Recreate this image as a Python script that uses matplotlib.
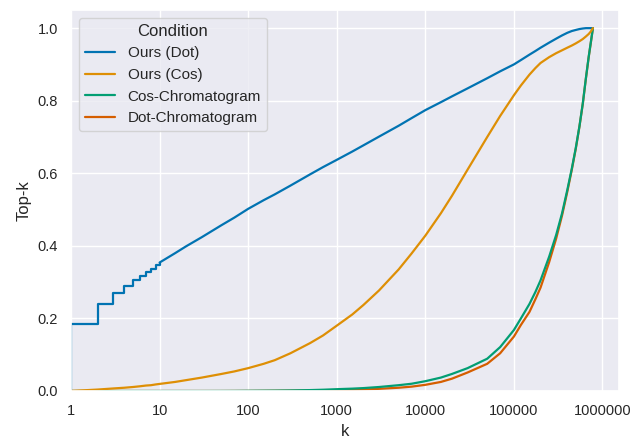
import matplotlib
matplotlib.use("Agg")
import matplotlib.pyplot as plt
import matplotlib.ticker as mticker
import seaborn as sns

k = [0, 1, 2, 3, 4, 5, 6, 7, 8, 9, 10,
     15, 20, 30, 50, 70,
     100, 150, 200, 300, 500, 700,
     1000, 1500, 2000, 3000, 5000, 7000,
     10000, 15000, 20000, 30000, 50000, 70000,
     100000, 120000, 150000, 175000, 200000, 250000, 300000, 350000, 400000, 450000,
     500000, 550000, 600000, 650000, 700000, 740000, 780000]

ours_dot = [0, .185, .240, .269, .288, .305, .317, .328, .337, .346, .354,
            .380, .399, .424, .457, .478,
            .502, .526, .542, .566, .597, .617,
            .637, .660, .677, .701, .731, .752,
            .774, .796, .812, .834, .862, .881,
            .900, .912, .927, .937, .946, .960, .971, .980, .987, .992,
            .995, .9975, .999, 1.0, 1.0, 1.0, 1.0]

ours_cos = [0, 0.0, .004, .007, .009, .011, .013, .015, .016, .018, .0195,
            .025, .030, .037, .047, .054,
            .063, .075, .085, .104, .132, .153,
            .180, .211, .237, .277, .335, .379,
            .428, .490, .538, .610, .700, .758,
            .815, .842, .872, .890, .904, .920, .931, .939, .946, .952,
            .958, .964, .970, .977, .984, .991, 1.0]

cos_chrom = [0, 0, 0, 0, 0, 0, 0, 0, 0, 0, 0,
             0, 0, 0, 0.0001, 0.0002,
             .0005, .0008, .001, .0015, .0025, .0035,
             .005, .0065, .008, .011, .016, .020,
             .027, .037, .047, .063, .089, .121,
             .168, .200, .240, .273, .305, .370, .430, .490, .553, .612,
             .670, .730, .793, .862, .922, .962, 1.0]

dot_chrom = [0, 0, 0, 0, 0, 0, 0, 0, 0, 0, 0,
             0, 0, 0, 0, 0.0001,
             .0002, .0004, .0006, .0009, .0013, .0017,
             .002, .003, .004, .006, .009, .012,
             .017, .025, .034, .051, .075, .104,
             .150, .182, .218, .253, .285, .355, .420, .484, .548, .609,
             .668, .729, .792, .861, .921, .961, 1.0]

labels = ["Ours (Dot)", "Ours (Cos)", "Cos-Chromatogram", "Dot-Chromatogram"]

sns.set_theme(style="darkgrid", palette="colorblind")
plt.rcParams['font.family'] = ['Liberation Sans', 'DejaVu Sans']
colors = sns.color_palette("colorblind")

fig = plt.figure(figsize=(6.32, 4.38), dpi=100)
ax = fig.add_axes([71/632, 1 - 391/438, (619-71)/632, (391-10)/438])

lw = 1.6
n_step = 11
h1, = ax.plot(k[:n_step], ours_dot[:n_step], color=colors[0], lw=lw,
              drawstyle='steps-post', zorder=2.0)
ax.plot(k[n_step-1:], ours_dot[n_step-1:], color=colors[0], lw=lw, zorder=2.0)
h4, = ax.plot(k, dot_chrom, color=colors[3], lw=lw, zorder=2.1)
h3, = ax.plot(k, cos_chrom, color=colors[2], lw=lw, zorder=2.2)
h2, = ax.plot(k, ours_cos, color=colors[1], lw=lw, zorder=2.3)

ax.set_xscale('log')
ax.margins(x=0.05, y=0.05)
ax.set_xlim(left=1)
ax.set_ylim(bottom=0)
ax.xaxis.set_major_locator(mticker.FixedLocator([1, 10, 100, 1000, 10000, 100000, 1000000]))
ax.xaxis.set_minor_locator(mticker.NullLocator())
ax.xaxis.set_major_formatter(mticker.FuncFormatter(lambda x, p: f"{x:.0f}"))
ax.yaxis.set_major_formatter(mticker.FormatStrFormatter('%.1f'))
ax.tick_params(labelsize=10.5)

ax.set_xlabel("k", fontsize=12)
ax.set_ylabel("Top-k", fontsize=12)

leg = ax.legend([h1, h2, h3, h4], labels, title="Condition", loc="upper left",
                fontsize=11, title_fontsize=12)

fig.savefig("out.png", dpi=100)
